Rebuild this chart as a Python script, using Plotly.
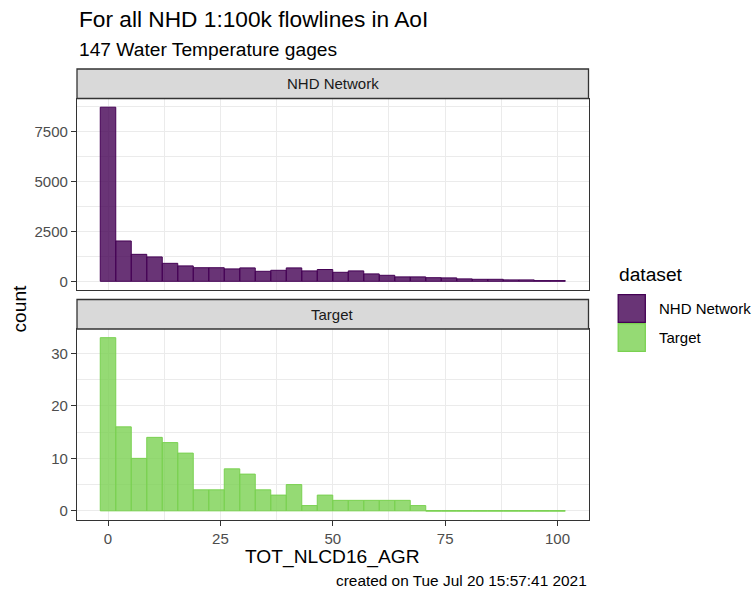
import numpy as np
import plotly.graph_objects as go

# ---- data: 30-bin histogram of TOT_NLCD16_AGR, counts per bin ----
n_bins = 30
data_min, data_max = 0.0, 100.0
nhd_counts = [8720, 2020, 1350, 1220, 900, 770, 680, 680, 620, 670,
              500, 550, 670, 520, 590, 450, 520, 370, 300, 220,
              220, 180, 170, 120, 100, 100, 70, 70, 35, 35]
target_counts = [33, 16, 10, 14, 13, 11, 4, 4, 8, 7,
                 4, 3, 5, 1, 3, 2, 2, 2, 2, 2,
                 1, 0, 0, 0, 0, 0, 0, 0, 0, 0]
panel_names = ["NHD Network", "Target"]
x_ticks = [0, 25, 50, 75, 100]
nhd_y_ticks = [0, 2500, 5000, 7500]
target_y_ticks = [0, 10, 20, 30]

title = "For all NHD 1:100k flowlines in AoI"
subtitle = "147 Water Temperature gages"
x_title = "TOT_NLCD16_AGR"
y_title = "count"
legend_title = "dataset"
caption = "created on Tue Jul 20 15:57:41 2021"

# bins centred on the data limits (ggplot-style binning)
bin_width = (data_max - data_min) / (n_bins - 1)
centers = data_min + np.arange(n_bins) * bin_width
left_edge = centers[0] - bin_width / 2
right_edge = centers[-1] + bin_width / 2
span = right_edge - left_edge
x_range = [left_edge - 0.05 * span, right_edge + 0.05 * span]

fills = ["rgba(68,1,84,0.8)", "rgba(122,209,81,0.8)"]
lines = ["#440154", "#7AD151"]

W, H = 753, 590
FONT = "Liberation Sans, Arial, sans-serif"


def px(x):
    return x / W


def py(y):
    return 1 - y / H


# panel geometry (pixels)
PX0, PX1 = 77, 588.5
panels = [(98.5, 290), (329, 519.5)]
strips = [(69, 98.5), (299.5, 329)]

fig = go.Figure()

for i, counts in enumerate([nhd_counts, target_counts]):
    xa = "x" if i == 0 else "x2"
    ya = "y" if i == 0 else "y2"
    fig.add_trace(go.Bar(
        x=centers, y=counts, width=bin_width,
        marker=dict(color=fills[i], line=dict(color=lines[i], width=1)),
        xaxis=xa, yaxis=ya, showlegend=False, hoverinfo="x+y",
    ))
    # empty bins still show their outline along the baseline
    zx, zy = [], []
    for c, n in zip(centers, counts):
        if n == 0:
            zx += [c - bin_width / 2, c + bin_width / 2, None]
            zy += [0, 0, None]
    if zx:
        fig.add_trace(go.Scatter(
            x=zx, y=zy, mode="lines", line=dict(color=lines[i], width=1.3),
            xaxis=xa, yaxis=ya, showlegend=False, hoverinfo="skip",
        ))

grid = "#EBEBEB"
border = "#333333"
tick_font = dict(family=FONT, size=15, color="#4D4D4D")


def minor_vals(ticks, lo, hi):
    step = ticks[1] - ticks[0]
    vals = []
    v = ticks[0] - step / 2
    while v <= hi:
        if v >= lo:
            vals.append(v)
        v += step
    return vals


def y_range(counts):
    m = max(counts)
    return [-0.05 * m, 1.05 * m]


xaxis_common = dict(
    range=x_range, showgrid=True, gridcolor=grid, gridwidth=1.3,
    zeroline=False, showline=True, linecolor=border, linewidth=1.3, mirror=True,
    tickvals=x_ticks,
    minor=dict(tickvals=minor_vals(x_ticks, *x_range), showgrid=True,
               gridcolor=grid, gridwidth=0.6, ticks=""),
    automargin=False,
)

fig.update_layout(
    width=W, height=H,
    margin=dict(l=0, r=0, t=0, b=0),
    paper_bgcolor="white", plot_bgcolor="white",
    showlegend=False,
    font=dict(family=FONT),
    xaxis=dict(
        domain=[px(PX0), px(PX1)], anchor="y", matches="x2",
        showticklabels=False, ticks="", **xaxis_common),
    xaxis2=dict(
        domain=[px(PX0), px(PX1)], anchor="y2",
        showticklabels=True, ticks="outside", ticklen=5, tickwidth=1.3,
        tickcolor=border, tickfont=tick_font, **xaxis_common),
)

for i, (counts, ticks) in enumerate([(nhd_counts, nhd_y_ticks),
                                     (target_counts, target_y_ticks)]):
    yr = y_range(counts)
    top, bottom = panels[i]
    fig.update_layout(**{("yaxis" if i == 0 else "yaxis2"): dict(
        domain=[py(bottom), py(top)], anchor=("x" if i == 0 else "x2"),
        range=yr, tickvals=ticks, showgrid=True, gridcolor=grid, gridwidth=1.3,
        minor=dict(tickvals=minor_vals(ticks, *yr), showgrid=True,
                   gridcolor=grid, gridwidth=0.6, ticks=""),
        zeroline=False, showline=True, linecolor=border, linewidth=1.3, mirror=True,
        ticks="outside", ticklen=5, tickwidth=1.3, tickcolor=border,
        tickfont=tick_font, automargin=False,
    )})

shapes = []
annotations = []

# facet strips
for (s0, s1), name in zip(strips, panel_names):
    shapes.append(dict(type="rect", xref="paper", yref="paper",
                       x0=px(PX0), x1=px(PX1), y0=py(s1), y1=py(s0),
                       fillcolor="#D9D9D9", line=dict(color=border, width=1.3)))
    annotations.append(dict(text=name, xref="paper", yref="paper",
                            x=px((PX0 + PX1) / 2), y=py((s0 + s1) / 2),
                            xanchor="center", yanchor="middle", showarrow=False,
                            font=dict(family=FONT, size=15, color="#1A1A1A")))

# titles and caption
annotations += [
    dict(text=title, xref="paper", yref="paper", x=px(PX0), y=py(19.5),
         xanchor="left", yanchor="middle", showarrow=False,
         font=dict(family=FONT, size=22.7, color="black")),
    dict(text=subtitle, xref="paper", yref="paper", x=px(PX0), y=py(49.5),
         xanchor="left", yanchor="middle", showarrow=False,
         font=dict(family=FONT, size=19.2, color="black")),
    dict(text=x_title, xref="paper", yref="paper", x=px((PX0 + PX1) / 2), y=py(557),
         xanchor="center", yanchor="middle", showarrow=False,
         font=dict(family=FONT, size=19.2, color="black")),
    dict(text=y_title, xref="paper", yref="paper", x=px(18.5), y=py(309),
         xanchor="center", yanchor="middle", showarrow=False, textangle=-90,
         font=dict(family=FONT, size=19.2, color="black")),
    dict(text=caption, xref="paper", yref="paper", x=px(PX1), y=py(580),
         xanchor="right", yanchor="middle", showarrow=False,
         font=dict(family=FONT, size=15.4, color="black")),
    dict(text=legend_title, xref="paper", yref="paper", x=px(617), y=py(274),
         xanchor="left", yanchor="middle", showarrow=False,
         font=dict(family=FONT, size=19.2, color="black")),
]

# legend keys
key_x0, key_x1 = 617.5, 646
key_top, key_h = 294, 29
for i, name in enumerate(panel_names):
    y0 = key_top + i * key_h
    shapes.append(dict(type="rect", xref="paper", yref="paper",
                       x0=px(key_x0 + 0.7), x1=px(key_x1 - 0.7),
                       y0=py(y0 + key_h - 0.7), y1=py(y0 + 0.7),
                       fillcolor=fills[i], line=dict(color=lines[i], width=1.3)))
    annotations.append(dict(text=name, xref="paper", yref="paper",
                            x=px(656.5), y=py(y0 + key_h / 2),
                            xanchor="left", yanchor="middle", showarrow=False,
                            font=dict(family=FONT, size=15, color="black")))

fig.update_layout(shapes=shapes, annotations=annotations)
fig.write_html("out.html")
